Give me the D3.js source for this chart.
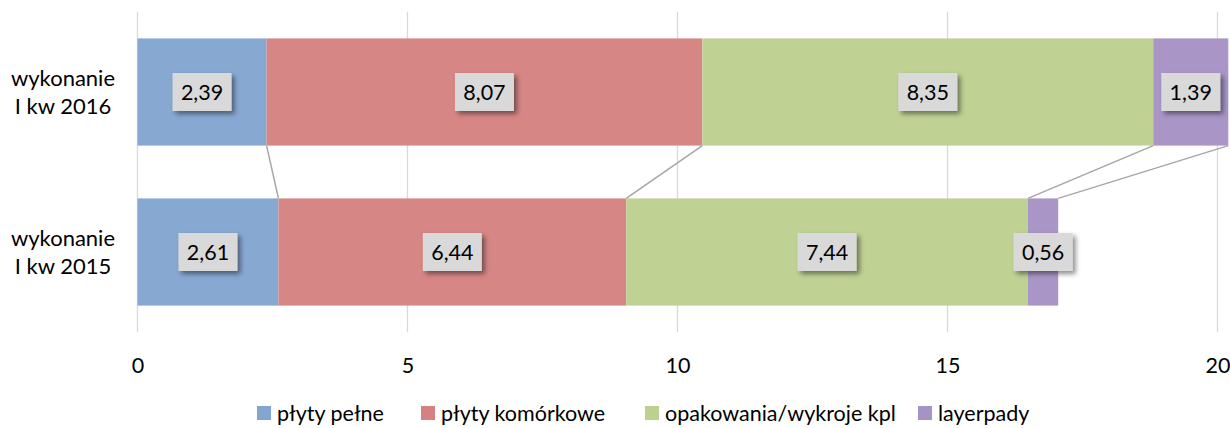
<!DOCTYPE html>
<html><head><meta charset="utf-8">
<script src="https://cdn.jsdelivr.net/npm/d3@7"></script>
<style>body{margin:0;background:#fff}svg{display:block}text{font-family:Lato,"Open Sans",sans-serif;fill:#000}</style>
</head><body>
<svg id="c" width="1230" height="428"></svg>
<script>
const categories = ["wykonanie\nI kw 2016", "wykonanie\nI kw 2015"];
const seriesNames = ["płyty pełne", "płyty komórkowe", "opakowania/wykroje kpl", "layerpady"];
const values2016 = [2.39, 8.07, 8.35, 1.39];
const values2015 = [2.61, 6.44, 7.44, 0.56];
const colors = ["#82a6cf", "#d58181", "#bcd08f", "#a692c4"];
const xTicks = [0, 5, 10, 15, 20];

const FS = "21.5px";
const svg = d3.select("#c");
const x = d3.scaleLinear().domain([0, 20]).range([137.5, 1217.5]);
const y = d3.scaleBand().domain(categories).range([12, 332]).paddingInner(0.33).paddingOuter(0.165);
const rows = [values2016, values2015];

// gridlines
svg.append("g").selectAll("line").data(xTicks).join("line")
  .attr("x1", d => x(d)).attr("x2", d => x(d)).attr("y1", 12).attr("y2", 332)
  .attr("stroke", "#d9d9d9").attr("stroke-width", 1.3);

const stacks = rows.map(vals => { let c = 0; return vals.map(v => { const s = c; c += v; return [s, c]; }); });

// bars
categories.forEach((cat, i) => {
  svg.append("g").selectAll("rect").data(stacks[i]).join("rect")
    .attr("x", d => x(d[0])).attr("width", d => x(d[1]) - x(d[0]))
    .attr("y", y(cat)).attr("height", y.bandwidth())
    .attr("fill", (d, j) => colors[j]).attr("fill-opacity", 0.96);
});

// series lines
const lg = svg.append("g");
stacks[0].forEach((d, j) => {
  lg.append("line")
    .attr("x1", x(d[1])).attr("y1", y(categories[0]) + y.bandwidth())
    .attr("x2", x(stacks[1][j][1])).attr("y2", y(categories[1]))
    .attr("stroke", "#a6a6a6").attr("stroke-width", 1.5);
});

// data labels
const defs = svg.append("defs");
const f = defs.append("filter").attr("id", "sh").attr("x", "-30%").attr("y", "-30%").attr("width", "170%").attr("height", "170%");
f.append("feDropShadow").attr("dx", 3).attr("dy", 3).attr("stdDeviation", 2.5).attr("flood-color", "#000").attr("flood-opacity", 0.45);
categories.forEach((cat, i) => {
  stacks[i].forEach((d, j) => {
    const cx = (x(d[0]) + x(d[1])) / 2, cy = y(cat) + y.bandwidth() / 2;
    const txt = rows[i][j].toFixed(2).replace(".", ",");
    svg.append("rect").attr("x", cx - 29.5).attr("y", cy - 19).attr("width", 59).attr("height", 38)
      .attr("fill", "#d9d9d9").attr("filter", "url(#sh)");
    svg.append("text").attr("x", cx).attr("y", cy).attr("dy", "0.36em").attr("text-anchor", "middle")
      .style("font-size", FS).text(txt);
  });
});

// category labels
categories.forEach(cat => {
  const t = svg.append("text").attr("text-anchor", "middle").style("font-size", "22px");
  const cy = y(cat) + y.bandwidth() / 2;
  cat.split("\n").forEach((line, k) => {
    t.append("tspan").attr("x", 63).attr("y", cy - 6 + k * 28).text(line);
  });
});

// x axis labels
const ax = svg.append("g").attr("transform", "translate(0,332)")
  .call(d3.axisBottom(x).tickValues(xTicks).tickSize(0).tickPadding(26));
ax.select(".domain").remove();
ax.selectAll("text").style("font-size", FS).attr("fill", "#000").style("font-family", "Lato,'Open Sans',sans-serif");

// legend
const legX = [257, 421, 645, 918];
const leg = svg.append("g");
seriesNames.forEach((n, j) => {
  leg.append("rect").attr("x", legX[j]).attr("y", 406).attr("width", 14).attr("height", 14).attr("fill", colors[j]);
  leg.append("text").attr("x", legX[j] + 20).attr("y", 413).attr("dy", "0.36em").style("font-size", FS).text(n);
});
</script>
</body></html>
